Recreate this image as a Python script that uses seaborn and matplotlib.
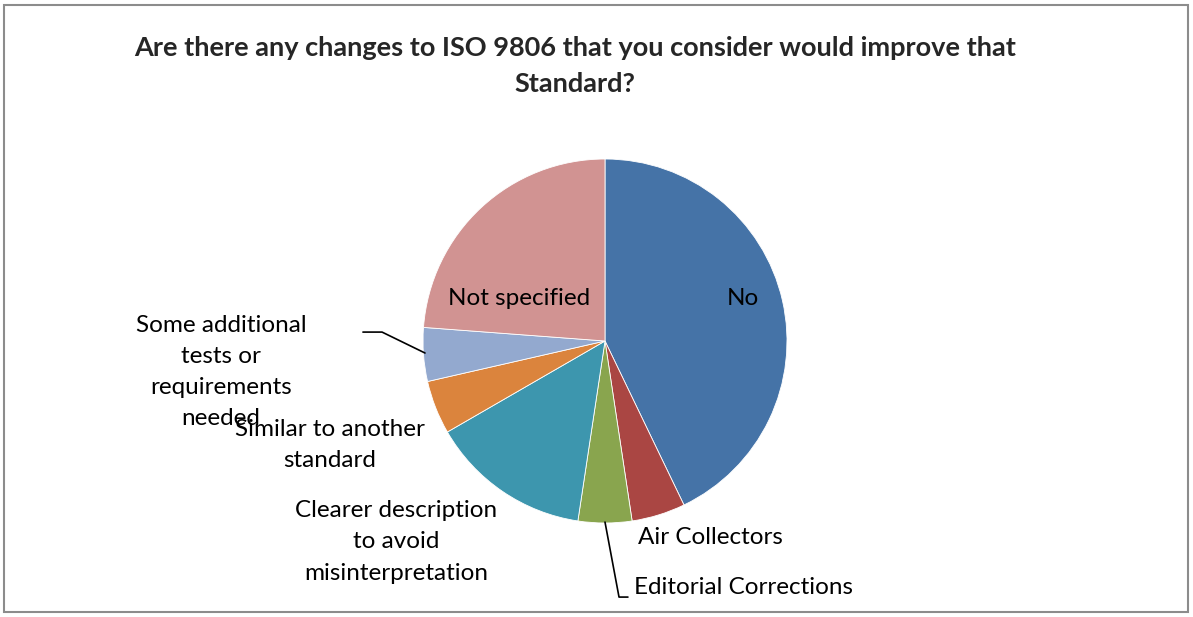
import matplotlib
matplotlib.use("Agg")
import matplotlib.pyplot as plt
import seaborn as sns
from matplotlib.patches import Rectangle

# Survey responses (counts)
categories = ["No", "Air Collectors", "Editorial Corrections",
              "Clearer description\nto avoid\nmisinterpretation",
              "Similar to another\nstandard",
              "Some additional\ntests or\nrequirements\nneeded",
              "Not specified"]
counts = [9, 1, 1, 3, 1, 1, 5]
colors = ["#4573A7", "#AA4643", "#89A54E", "#3D96AE", "#DB843D", "#93A9CF", "#D19392"]
title = "Are there any changes to ISO 9806 that you consider would improve that\nStandard?"

sns.set_theme(style="white")
plt.rcParams["font.family"] = ["Lato", "DejaVu Sans"]

W, H = 1193, 617
fig = plt.figure(figsize=(W / 100, H / 100), dpi=100)

# outer chart frame
fig.patches.append(Rectangle((4 / W, 5 / H), 1184 / W, 607 / H, transform=fig.transFigure,
                             fill=False, edgecolor="#8c8c8c", linewidth=1.5))

cx, cy, r = 605, 341, 182
ax = fig.add_axes([(cx - r) / W, (H - cy - r) / H, 2 * r / W, 2 * r / H])
ax.pie(counts, colors=colors, startangle=90, counterclock=False, radius=1,
       wedgeprops=dict(edgecolor="white", linewidth=0.6))
ax.set_xlim(-1, 1)
ax.set_ylim(-1, 1)
ax.set_aspect("equal")
ax.axis("off")

fs = 17.5
txt = dict(fontsize=fs, color="black", ha="center", va="center", clip_on=False,
           linespacing=1.6)
ax.text(0.758, 0.236, categories[0], **txt)
ax.text(-0.473, 0.236, categories[6], **txt)
ax.text(0.582, -1.077, categories[1], **txt)
ax.text(0.16, -1.357, categories[2], **{**txt, "ha": "left"})
ax.text(-1.148, -1.104, categories[3], **txt)
ax.text(-1.511, -0.571, categories[4], **txt)
ax.text(-2.11, -0.17, categories[5], **txt)

# leader lines
ax.plot([0.0, 0.077, 0.126], [-0.995, -1.407, -1.407], color="black", lw=1.2, clip_on=False)
ax.plot([-1.33, -1.225, -0.989], [0.049, 0.049, -0.066], color="black", lw=1.2, clip_on=False)

fig.text(575 / W, 1 - 66 / H, title, ha="center", va="center", fontsize=19.5,
         fontweight="bold", linespacing=1.65)

fig.savefig("out.png", dpi=100)
